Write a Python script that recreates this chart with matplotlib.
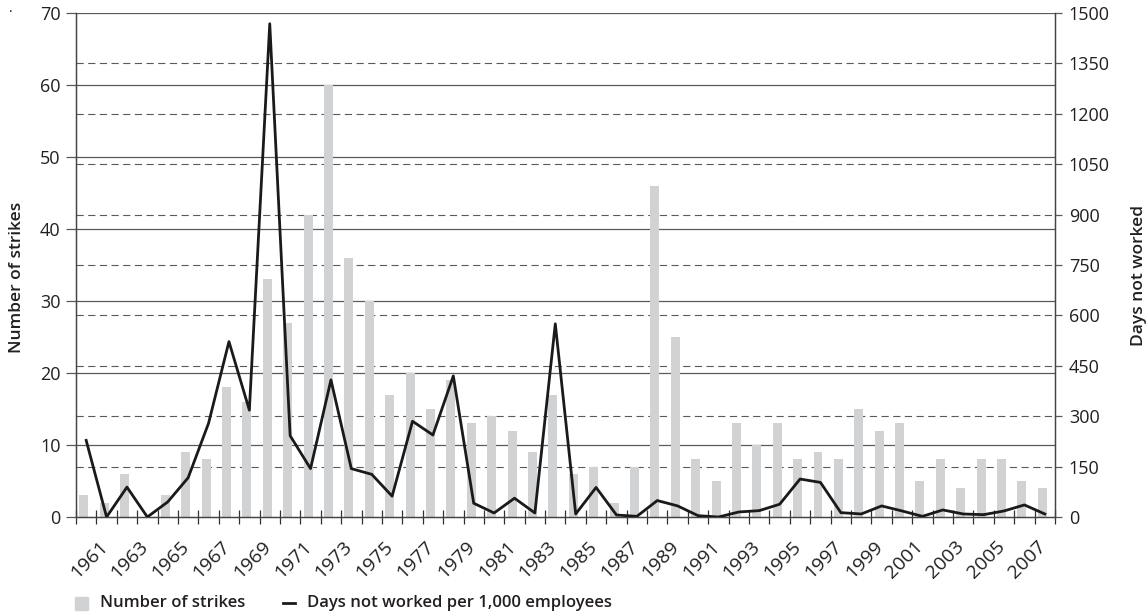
import matplotlib.pyplot as plt
import numpy as np
from matplotlib.patches import Rectangle
from matplotlib.lines import Line2D

plt.rcParams['font.family'] = ['Open Sans', 'DejaVu Sans']

years = list(range(1960, 2008))
strikes = [3, 2, 6, 0, 3, 9, 8, 18, 16, 33,
           27, 42, 60, 36, 30, 17, 20, 15, 19, 13,
           14, 12, 9, 17, 6, 7, 2, 7, 46, 25,
           8, 5, 13, 10, 13, 8, 9, 8, 15, 12,
           13, 5, 8, 4, 8, 8, 5, 4]
days = [228, 0, 89, 0, 45, 117, 279, 522, 318, 1468,
        242, 144, 408, 144, 127, 62, 285, 244, 420, 41,
        12, 56, 12, 575, 9, 88, 6, 2, 49, 33,
        4, 0, 15, 19, 38, 113, 103, 13, 9, 33,
        18, 2, 21, 9, 7, 18, 36, 9]
label_years = [y for y in years if y % 2 == 1]

left_ticks = list(range(0, 71, 10))
right_ticks = list(range(0, 1501, 150))

txt = '#231f20'
grid_c = '#5a5a5a'

fig = plt.figure(figsize=(11.46, 6.16), dpi=100)
ax = fig.add_axes([0.0663, 0.1607, 0.8543, 0.8182])
ax2 = ax.twinx()

x = np.arange(len(years))
ax.bar(x - 0.12, strikes, width=0.44, color='#d1d2d4', zorder=2)
ax2.plot(x, days, color='#1a1a1a', lw=2.0, zorder=3)

ax.set_xlim(-0.5, len(years) - 0.5)
ax.set_ylim(0, 70)
ax2.set_ylim(0, 1500)

# solid grid at left ticks, dashed grid at right ticks (drawn on left axis so bars sit on top)
for t in left_ticks[1:]:
    ax.axhline(t, color=grid_c, lw=0.9, zorder=1)
for t in right_ticks[1:-1]:
    ax.axhline(t * 70 / 1500, color=grid_c, lw=0.8, ls=(0, (6.5, 4)), zorder=1)

ax.set_yticks(left_ticks)
ax.set_yticklabels([str(t) for t in left_ticks], fontsize=13, color=txt)
ax.tick_params(axis='y', length=7, width=0.9, color=grid_c, pad=4)
ax2.set_yticks(right_ticks)
ax2.set_yticklabels([str(t) for t in right_ticks], fontsize=13, color=txt)
ax2.tick_params(axis='y', length=5, width=0.9, color=grid_c, pad=5)

# category boundaries as crossing ticks, year labels at odd years
ax.set_xticks(np.arange(-0.5, len(years), 1.0), minor=True)
ax.tick_params(axis='x', which='minor', length=10, width=0.9, direction='inout', color='#333333')
lab_pos = [years.index(y) - 0.4 for y in label_years]
ax.set_xticks(lab_pos)
ax.set_xticklabels([str(y) for y in label_years], rotation=45, ha='right',
                   rotation_mode='anchor', fontsize=14, color=txt)
ax.tick_params(axis='x', which='major', length=0, pad=15)

for a in (ax, ax2):
    for s in a.spines.values():
        s.set_color('#444444')
        s.set_linewidth(0.9)
ax.spines['top'].set_visible(False)
ax2.spines['top'].set_visible(False)

ax.set_ylabel('Number of strikes', fontsize=12.5, color=txt, fontweight='semibold')
ax.yaxis.set_label_coords(-0.052, 0.475)
ax2.set_ylabel('Days not worked', fontsize=12.5, color=txt, fontweight='semibold')
ax2.yaxis.set_label_coords(1.0775, 0.48)

# legend
fig.patches.append(Rectangle((75 / 1146, 1 - 610 / 616), 13 / 1146, 13 / 616,
                             transform=fig.transFigure, color='#d1d2d4'))
fig.text(100 / 1146, 1 - 603 / 616, 'Number of strikes', fontsize=12, fontweight='semibold',
         color=txt, va='center')
fig.lines.append(Line2D([283 / 1146, 295 / 1146], [1 - 603 / 616, 1 - 603 / 616],
                        transform=fig.transFigure, color='#1a1a1a', lw=2))
fig.text(307 / 1146, 1 - 603 / 616, 'Days not worked per 1,000 employees', fontsize=12,
         fontweight='semibold', color=txt, va='center')
fig.text(9 / 1146, 1 - 9 / 616, '.', fontsize=10, color=txt, va='center')

fig.savefig('out.png', dpi=100)
